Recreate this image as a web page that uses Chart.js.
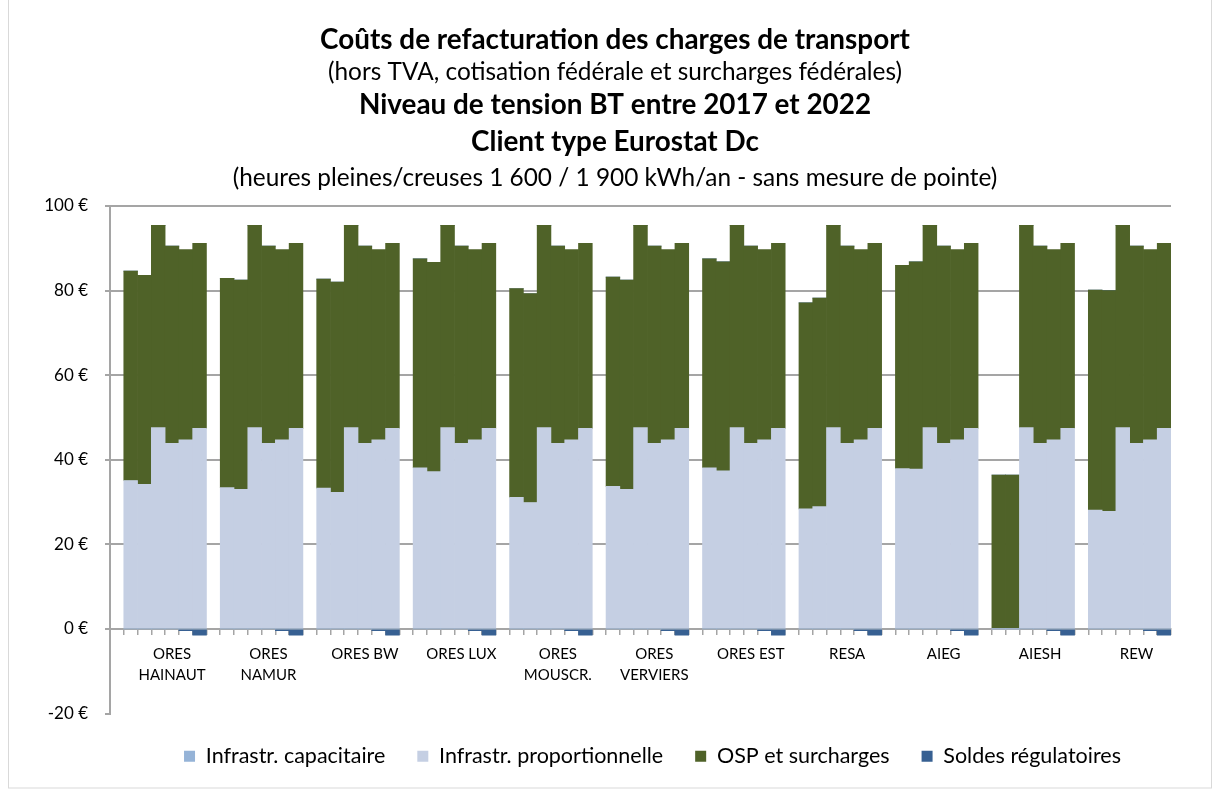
<!DOCTYPE html>
<html><head><meta charset="utf-8">
<script src="https://cdn.jsdelivr.net/npm/chart.js@4.4.1/dist/chart.umd.min.js"></script>
<style>html,body{margin:0;padding:0;background:#fff;} #wrap{position:relative;width:1219px;height:792px;} canvas{display:block;}</style>
</head><body><div id="wrap"><canvas id="c" width="1219" height="792"></canvas></div>
<script>
// ---- data ----
const groupLabels = [['ORES','HAINAUT'],['ORES','NAMUR'],'ORES BW','ORES LUX',['ORES','MOUSCR.'],['ORES','VERVIERS'],'ORES EST','RESA','AIEG','AIESH','REW'];
const years = ['2017','2018','2019','2020','2021','2022'];
const infraCapacitaire = [
  [0,0,0,0,0,0],[0,0,0,0,0,0],[0,0,0,0,0,0],[0,0,0,0,0,0],[0,0,0,0,0,0],[0,0,0,0,0,0],
  [0,0,0,0,0,0],[0,0,0,0,0,0],[0,0,0,0,0,0],[0,0,0,0,0,0],[0,0,0,0,0,0]
];
const infraProportionnelle = [
  [35.1,34.2,47.6,43.9,44.7,47.4], // ORES HAINAUT
  [33.4,33.0,47.6,43.9,44.7,47.4], // ORES NAMUR
  [33.3,32.3,47.6,43.9,44.7,47.4], // ORES BW
  [38.1,37.2,47.6,43.9,44.7,47.4], // ORES LUX
  [31.1,29.9,47.6,43.9,44.7,47.4], // ORES MOUSCR.
  [33.7,33.0,47.6,43.9,44.7,47.4], // ORES VERVIERS
  [38.1,37.4,47.6,43.9,44.7,47.4], // ORES EST
  [28.4,28.9,47.6,43.9,44.7,47.4], // RESA
  [37.9,37.8,47.6,43.9,44.7,47.4], // AIEG
  [0,0,47.6,43.9,44.7,47.4],       // AIESH
  [28.1,27.8,47.6,43.9,44.7,47.4]  // REW
];
const ospSurcharges = [
  [49.5,49.4,47.8,46.6,45.0,43.8],
  [49.5,49.5,47.8,46.6,45.0,43.8],
  [49.4,49.7,47.8,46.6,45.0,43.8],
  [49.4,49.5,47.8,46.6,45.0,43.8],
  [49.4,49.4,47.8,46.6,45.0,43.8],
  [49.5,49.5,47.8,46.6,45.0,43.8],
  [49.4,49.4,47.8,46.6,45.0,43.8],
  [48.7,49.3,47.8,46.6,45.0,43.8],
  [48.1,49.0,47.8,46.6,45.0,43.8],
  [36.4,36.4,47.8,46.6,45.0,43.8],
  [52.0,52.2,47.8,46.6,45.0,43.8]
];
const soldesRegulatoires = [
  [0,0,0,0,-0.4,-1.5],[0,0,0,0,-0.4,-1.5],[0,0,0,0,-0.4,-1.5],[0,0,0,0,-0.4,-1.5],
  [0,0,0,0,-0.4,-1.5],[0,0,0,0,-0.4,-1.5],[0,0,0,0,-0.4,-1.5],[0,0,0,0,-0.4,-1.5],
  [0,0,0,0,-0.4,-1.5],[0,0,0,0,-0.4,-1.5],[0,0,0,0,-0.4,-1.5]
];
const yTickValues = [-20,0,20,40,60,80,100];
const titleLines = [
  'Coûts de refacturation des charges de transport',
  '(hors TVA, cotisation fédérale et surcharges fédérales)',
  'Niveau de tension BT entre 2017 et 2022',
  'Client type Eurostat Dc',
  '(heures pleines/creuses 1 600 / 1 900 kWh/an - sans mesure de pointe)'
];

// ---- build flat category axis: blank, 6 years, blank, 6 years, ... ----
const categories = [''];
groupLabels.forEach((g, gi) => {
  years.forEach(() => categories.push(''));
  if (gi < groupLabels.length - 1) categories.push('');
});
groupLabels.forEach((g, gi) => { categories[4 + 7 * gi] = g; });
function flatten(series) {
  const out = [null];
  series.forEach((grp, gi) => {
    grp.forEach(v => out.push(v));
    if (gi < series.length - 1) out.push(null);
  });
  return out;
}

const FONT = 'Lato';
const titleStyle = [
  {bold:true, y:40},
  {bold:false, y:72},
  {bold:true, y:105},
  {bold:true, y:142},
  {bold:false, y:178}
];
const titlePlugin = {
  id: 'titles',
  afterLayout(chart) {
    if (chart.legend) { chart.legend.left += 12; chart.legend.right += 12; }
  },
  afterDraw(chart) {
    const ctx = chart.ctx;
    ctx.save();
    ctx.fillStyle = '#000';
    ctx.textAlign = 'center';
    ctx.textBaseline = 'middle';
    // bold size fitted on line 1, normal size fitted on line 5
    ctx.font = 'bold 20px ' + FONT;
    const boldSize = 20 * 590 / ctx.measureText(titleLines[0]).width;
    ctx.font = '20px ' + FONT;
    const normSize = 20 * 765 / ctx.measureText(titleLines[4]).width;
    titleLines.forEach((t, i) => {
      const s = titleStyle[i];
      ctx.font = s.bold ? ('bold ' + boldSize.toFixed(2) + 'px ' + FONT) : (normSize.toFixed(2) + 'px ' + FONT);
      ctx.fillText(t, 615, s.y);
    });
    // outer frame
    ctx.strokeStyle = '#D9D9D9';
    ctx.lineWidth = 1;
    ctx.strokeRect(8.5, -1, 1203, 789);
    ctx.restore();
  }
};

const grid = '#A5A5A5';
new Chart(document.getElementById('c'), {
  type: 'bar',
  data: {
    labels: categories,
    datasets: [
      {label:'Infrastr. capacitaire', data: flatten(infraCapacitaire), backgroundColor:'#95B3D7'},
      {label:'Infrastr. proportionnelle', data: flatten(infraProportionnelle), backgroundColor:'#C5CFE3'},
      {label:'OSP et surcharges', data: flatten(ospSurcharges), backgroundColor:'#4F6228'},
      {label:'Soldes régulatoires', data: flatten(soldesRegulatoires), backgroundColor:'#376092'}
    ]
  },
  options: {
    responsive: false,
    animation: false,
    devicePixelRatio: 1,
    datasets: { bar: { barPercentage: 1, categoryPercentage: 1, borderWidth: 0 } },
    layout: { padding: { left: 0, right: 48, top: 206, bottom: 15 } },
    plugins: {
      title: { display: false },
      tooltip: { enabled: false },
      legend: {
        position: 'bottom',
        fullSize: false,
        labels: { boxWidth: 11, boxHeight: 11, padding: 32, color: '#000', font: { family: FONT, size: 21.5 } }
      }
    },
    scales: {
      x: {
        type: 'category',
        stacked: true,
        position: { y: 0 },
        offset: true,
        grid: { offset: true, drawOnChartArea: false, drawTicks: true, tickLength: 5, color: grid, lineWidth: 1.5 },
        border: { display: true, color: grid, width: 2 },
        ticks: { autoSkip: false, maxRotation: 0, minRotation: 0, padding: 10, color: '#000', font: { family: FONT, size: 15, lineHeight: 1.4 } }
      },
      y: {
        stacked: true,
        min: -20, max: 100,
        afterFit(scale) { scale.width = 110; },
        afterBuildTicks(scale) { scale.ticks = yTickValues.map(v => ({value: v})); },
        grid: {
          color: c => (c.tick && c.tick.value === -20) ? 'rgba(0,0,0,0)' : grid,
          tickColor: grid, tickLength: 5, lineWidth: 2
        },
        border: { display: true, color: grid, width: 2 },
        ticks: { padding: 17, color: '#000', font: { family: FONT, size: 17 }, callback: v => v + ' €' }
      }
    }
  },
  plugins: [titlePlugin]
});
</script>
</body></html>
